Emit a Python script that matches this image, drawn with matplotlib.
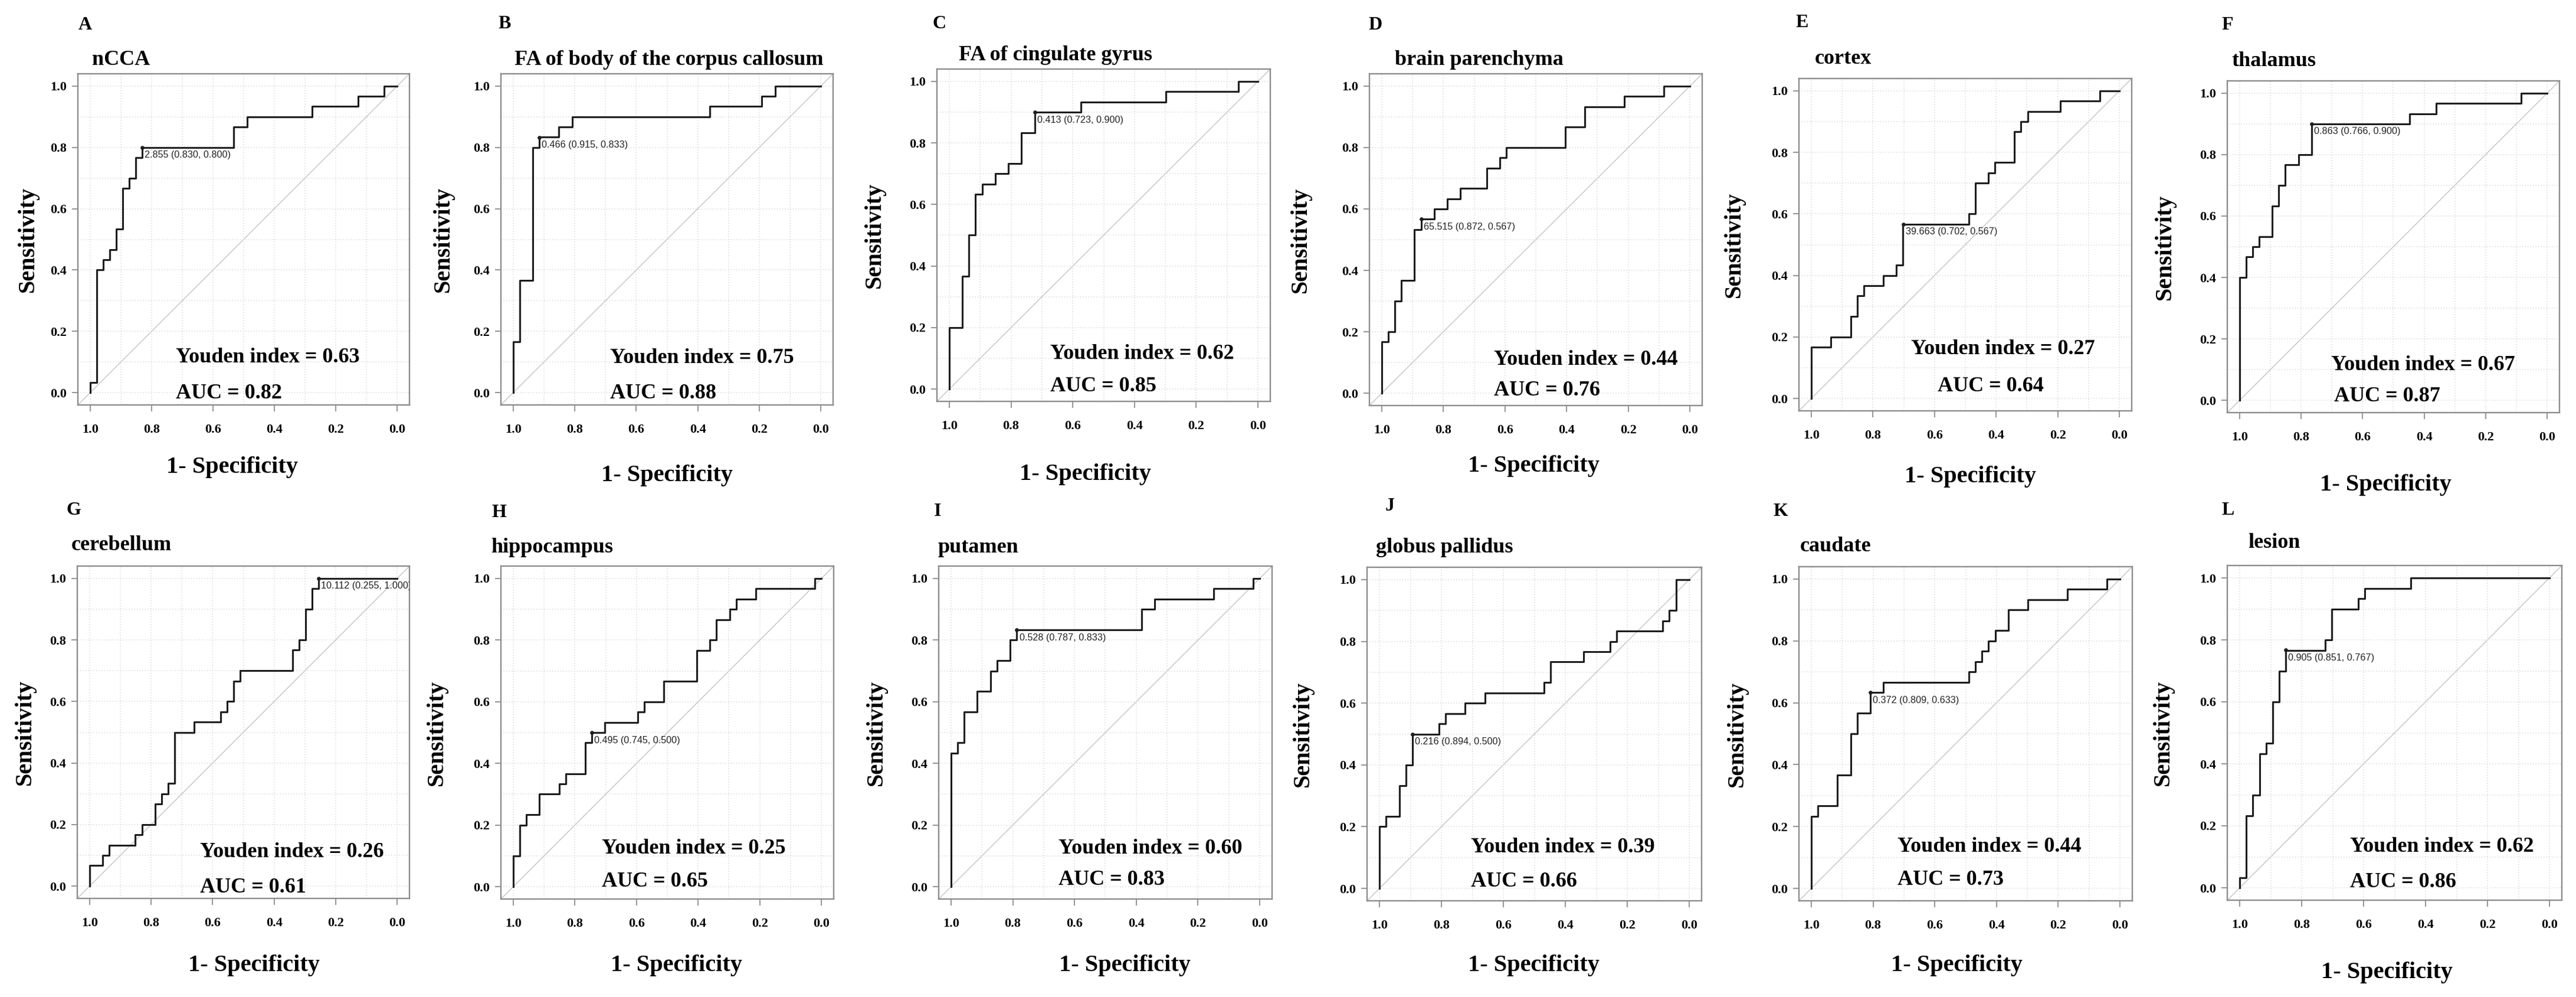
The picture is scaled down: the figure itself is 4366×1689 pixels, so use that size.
import numpy as np
import matplotlib.pyplot as plt

W, H = 4366, 1689
N_CONTROL = 47   # specificity steps are multiples of 1/47
N_CASE = 30      # sensitivity steps are multiples of 1/30

letters = list("ABCDEFGHIJKL")
titles = ["nCCA", "FA of body of the corpus callosum", "FA of cingulate gyrus",
          "brain parenchyma", "cortex", "thalamus", "cerebellum", "hippocampus",
          "putamen", "globus pallidus", "caudate", "lesion"]
youden = ["0.63", "0.75", "0.62", "0.44", "0.27", "0.67",
          "0.26", "0.25", "0.60", "0.39", "0.44", "0.62"]
auc = ["0.82", "0.88", "0.85", "0.76", "0.64", "0.87",
       "0.61", "0.65", "0.83", "0.66", "0.73", "0.86"]
thresholds = ["2.855", "0.466", "0.413", "65.515", "39.663", "0.863",
              "10.112", "0.495", "0.528", "0.216", "0.372", "0.905"]
best_spec = [0.830, 0.915, 0.723, 0.872, 0.702, 0.766,
             0.255, 0.745, 0.787, 0.894, 0.809, 0.851]
best_sens = [0.800, 0.833, 0.900, 0.567, 0.567, 0.900,
             1.000, 0.500, 0.833, 0.500, 0.633, 0.767]

# ROC corners: specificity count (of 47) where sensitivity count (of 30) rises
ncca_spec = [47, 46, 45, 44, 43, 42, 41, 40, 39, 25, 23, 13, 6, 2]
ncca_sens = [1, 12, 13, 14, 16, 20, 21, 23, 24, 26, 27, 28, 29, 30]
fa_cc_spec = [47, 46, 44, 43, 40, 38, 17, 9, 7]
fa_cc_sens = [5, 11, 24, 25, 26, 27, 28, 29, 30]
fa_cg_spec = [47, 45, 44, 43, 42, 40, 38, 36, 34, 27, 14, 3]
fa_cg_sens = [6, 11, 15, 19, 20, 21, 22, 25, 27, 28, 29, 30]
brain_spec = [47, 46, 45, 44, 42, 41, 39, 37, 35, 31, 29, 28, 19, 16, 10, 4]
brain_sens = [5, 6, 9, 11, 16, 17, 18, 19, 20, 22, 23, 24, 26, 28, 29, 30]
cortex_spec = [47, 44, 41, 40, 39, 36, 34, 33, 23, 22, 20, 19, 16, 15, 14, 9, 3]
cortex_sens = [5, 6, 8, 10, 11, 12, 13, 17, 18, 21, 22, 23, 26, 27, 28, 29, 30]
thal_spec = [47, 46, 45, 44, 42, 41, 40, 38, 36, 21, 17, 4]
thal_sens = [12, 14, 15, 16, 19, 21, 23, 24, 27, 28, 29, 30]
cereb_spec = [47, 45, 44, 40, 39, 37, 36, 35, 34, 31, 27, 26, 25, 24, 16, 15, 14, 13, 12]
cereb_sens = [2, 3, 4, 5, 6, 8, 9, 10, 15, 16, 17, 18, 20, 21, 23, 24, 27, 29, 30]
hippo_spec = [47, 46, 45, 43, 40, 39, 36, 35, 33, 28, 27, 24, 19, 17, 16, 14, 13, 10, 1]
hippo_sens = [3, 6, 7, 9, 10, 11, 14, 15, 16, 17, 18, 20, 23, 24, 26, 27, 28, 29, 30]
put_spec = [47, 46, 45, 43, 41, 40, 38, 37, 18, 16, 7, 1]
put_sens = [13, 14, 17, 19, 21, 22, 24, 25, 27, 28, 29, 30]
gp_spec = [47, 46, 44, 43, 42, 38, 37, 34, 31, 22, 21, 16, 12, 11, 4, 3, 2]
gp_sens = [6, 7, 10, 12, 15, 16, 17, 18, 19, 20, 22, 23, 24, 25, 26, 27, 30]
caud_spec = [47, 46, 43, 41, 40, 38, 36, 23, 22, 21, 20, 19, 17, 14, 8, 2]
caud_sens = [7, 8, 11, 15, 17, 19, 20, 21, 22, 23, 24, 25, 27, 28, 29, 30]
lesion_spec = [47, 46, 45, 44, 43, 42, 41, 40, 34, 33, 29, 28, 21]
lesion_sens = [1, 7, 9, 13, 14, 18, 21, 23, 24, 27, 28, 29, 30]

curves = [(ncca_spec, ncca_sens), (fa_cc_spec, fa_cc_sens), (fa_cg_spec, fa_cg_sens),
          (brain_spec, brain_sens), (cortex_spec, cortex_sens), (thal_spec, thal_sens),
          (cereb_spec, cereb_sens), (hippo_spec, hippo_sens), (put_spec, put_sens),
          (gp_spec, gp_sens), (caud_spec, caud_sens), (lesion_spec, lesion_sens)]

# layout (pixels): plot box left, top, right, bottom
boxes = [(132, 125, 694, 686), (849, 125, 1412, 686), (1588, 117, 2153, 680),
         (2321, 125, 2885, 687), (3049, 133, 3613, 696), (3775, 137, 4338, 699),
         (131, 959, 694, 1522), (849, 959, 1413, 1523), (1591, 959, 2156, 1523),
         (2317, 961, 2884, 1526), (3049, 960, 3614, 1526), (3775, 958, 4342, 1525)]
letter_pos = [(133, 43), (844, 40), (1581, 40), (2319, 42), (3043, 38), (3765, 43),
              (112, 864), (833, 868), (1583, 867), (2348, 858), (3006, 867), (3765, 864)]
title_pos = [(156, 102), (872, 101), (1625, 94), (2364, 101), (3076, 100), (3782, 103),
             (121, 923), (832, 928), (1589, 928), (2332, 928), (3051, 926), (3810, 920)]
ylab_off = [85, 98, 106, 117, 110, 106, 89, 109, 106, 109, 105, 109]
xlab_pos = [(393, 792), (1130, 805), (1839, 803), (2599, 789), (3339, 808), (4043, 822),
            (430, 1636), (1146, 1636), (1906, 1636), (2599, 1636), (3316, 1636), (4045, 1647)]
youden_pos = [(0.295, 0.144), (0.329, 0.141), (0.339, 0.143), (0.374, 0.138),
              (0.337, 0.186), (0.312, 0.144), (0.369, 0.140), (0.304, 0.152),
              (0.359, 0.152), (0.310, 0.160), (0.296, 0.162), (0.367, 0.160)]
auc_pos = [(0.295, 0.035), (0.329, 0.035), (0.339, 0.046), (0.374, 0.046),
           (0.416, 0.074), (0.322, 0.049), (0.369, 0.032), (0.304, 0.052),
           (0.359, 0.057), (0.310, 0.057), (0.296, 0.063), (0.367, 0.054)]

SERIF = "Liberation Serif"
GRAY = "#8c8c8c"

fig = plt.figure(figsize=(W / 100, H / 100), dpi=100)

for i in range(12):
    l, t, r, b = boxes[i]
    ax = fig.add_axes([l / W, 1 - b / H, (r - l) / W, (b - t) / H])

    spec, sens = curves[i]
    xs, ys = [1.0], [0.0]
    for s, n in zip(spec, sens):
        xs += [s / N_CONTROL, s / N_CONTROL]
        ys += [ys[-1], n / N_CASE]
    xs.append(0.0)
    ys.append(1.0)

    ax.plot([1.04, -0.04], [-0.04, 1.04], color="#c8c8c8", lw=1.1, zorder=1)
    ax.plot(xs, ys, color="#1e1e1e", lw=2.2, zorder=3)
    ax.plot(best_spec[i], best_sens[i], "o", color="#1e1e1e", ms=3.8, zorder=4)
    ax.annotate(f"{thresholds[i]} ({best_spec[i]:.3f}, {best_sens[i]:.3f})",
                (best_spec[i], best_sens[i]), xytext=(3, -4), textcoords="offset points",
                ha="left", va="top", fontsize=11.6, family="Liberation Sans",
                color="#222222", annotation_clip=False, clip_on=True, zorder=4)

    ax.set_xlim(1.04, -0.04)
    ax.set_ylim(-0.04, 1.04)
    ax.set_xticks(np.arange(0, 1.01, 0.2))
    ax.set_yticks(np.arange(0, 1.01, 0.2))
    ax.set_xticks(np.arange(0, 1.01, 0.1), minor=True)
    ax.set_yticks(np.arange(0, 1.01, 0.1), minor=True)
    ax.set_xticklabels([f"{v:.1f}" for v in np.arange(0, 1.01, 0.2)])
    ax.set_yticklabels([f"{v:.1f}" for v in np.arange(0, 1.01, 0.2)])
    ax.grid(which="both", color="#d8d8d8", ls=(0, (1, 2)), lw=1.1, zorder=0)
    ax.tick_params(which="minor", length=0)
    ax.tick_params(axis="x", which="major", length=8, width=1.3, color=GRAY, pad=15)
    ax.tick_params(axis="y", which="major", length=7.5, width=1.3, color=GRAY, pad=6)
    for lab in ax.get_xticklabels() + ax.get_yticklabels():
        lab.set_fontfamily(SERIF)
        lab.set_fontweight("bold")
        lab.set_fontsize(16)
    for sp in ax.spines.values():
        sp.set_color(GRAY)
        sp.set_linewidth(1.7)

    ax.set_ylabel("Sensitivity", family=SERIF, fontweight="bold", fontsize=29)
    ax.yaxis.set_label_coords(-ylab_off[i] / (r - l), 0.5)
    ax.yaxis.label.set_va("center")
    ax.set_xlabel("1- Specificity", family=SERIF, fontweight="bold", fontsize=29)
    cx, cy = xlab_pos[i]
    ax.xaxis.set_label_coords((cx - l) / (r - l), (b - cy) / (b - t))
    ax.xaxis.label.set_va("center")

    yx, yy = youden_pos[i]
    ax.text(yx, yy, f"Youden index = {youden[i]}", transform=ax.transAxes,
            family=SERIF, fontweight="bold", fontsize=26, ha="left", va="center")
    ax2x, ax2y = auc_pos[i]
    ax.text(ax2x, ax2y, f"AUC = {auc[i]}", transform=ax.transAxes,
            family=SERIF, fontweight="bold", fontsize=26, ha="left", va="center")

    lx, ly = letter_pos[i]
    fig.text(lx / W, 1 - ly / H, letters[i], family=SERIF, fontweight="bold",
             fontsize=23, ha="left", va="center")
    tx, ty = title_pos[i]
    fig.text(tx / W, 1 - ty / H, titles[i], family=SERIF, fontweight="bold",
             fontsize=26, ha="left", va="center")

fig.savefig("out.png", dpi=100, facecolor="white")
